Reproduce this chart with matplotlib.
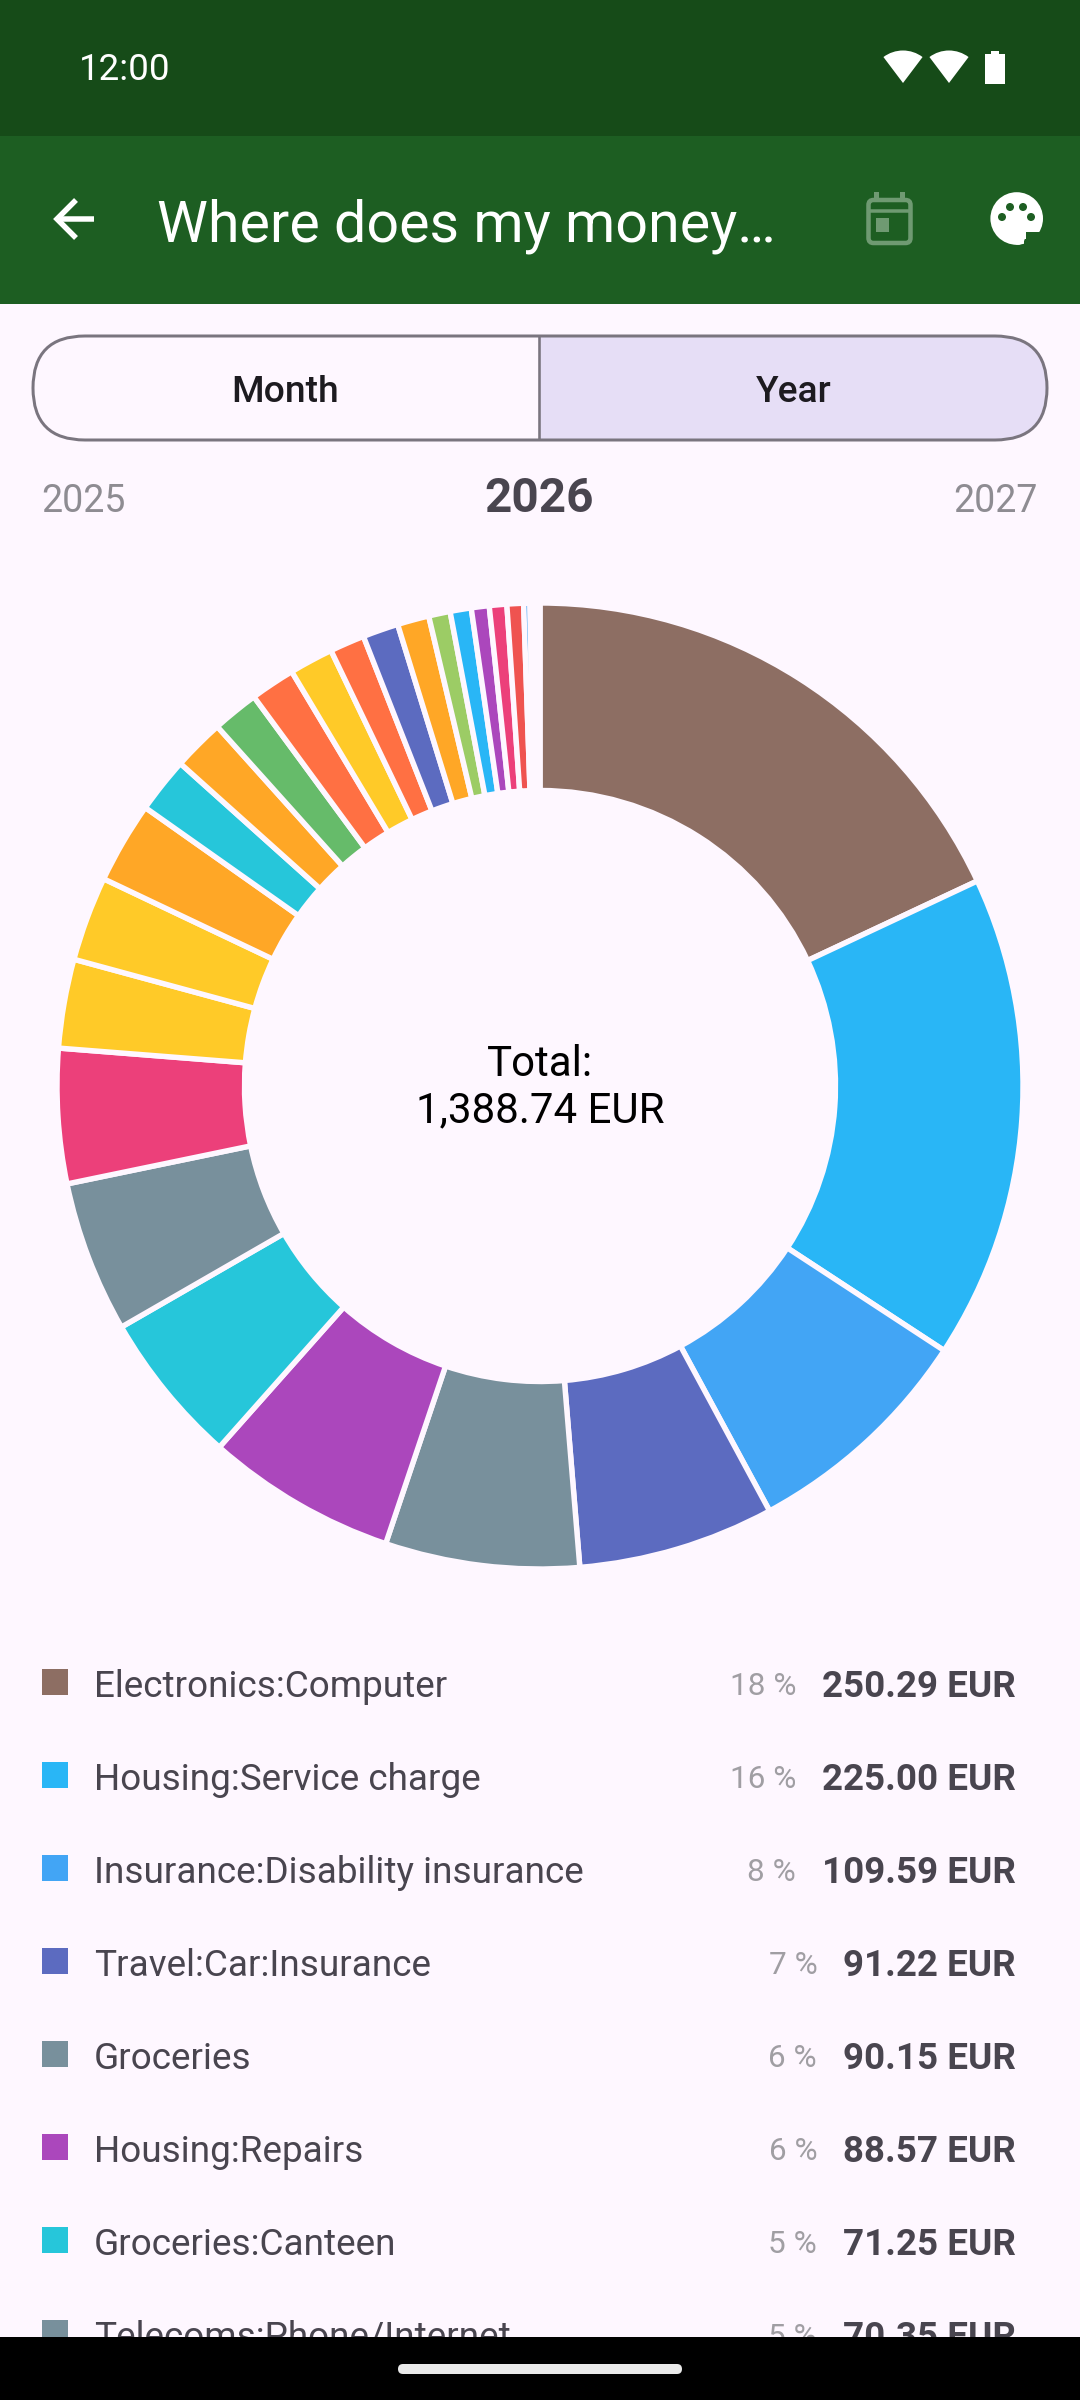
import matplotlib
matplotlib.use("Agg")
import matplotlib.pyplot as plt
from matplotlib.patches import Rectangle, FancyBboxPatch, Wedge, Circle

# ---------- data ----------
slice_values = [250.29, 225.00, 109.59, 91.22, 90.15, 88.57, 71.25, 70.35,
                62.5, 41.3, 39.3, 37.8, 25.8, 23.9, 21.6, 20.8, 20.4, 16.2,
                16.6, 14.7, 10.0, 9.8, 8.3, 8.1, 7.7, 2.9, 1.6, 1.5, 1.5]
slice_colors = ["#8D6E63", "#29B6F6", "#42A5F5", "#5C6BC0", "#78909C", "#AB47BC",
                "#26C6DA", "#78909C", "#EC407A", "#FFCA28", "#FFCA28", "#FFA726",
                "#26C6DA", "#FFA726", "#66BB6A", "#FF7043", "#FFCA28", "#FF7043",
                "#5C6BC0", "#FFA726", "#9CCC65", "#29B6F6", "#AB47BC", "#EC407A",
                "#EF5350", "#42A5F5", "#FFCA28", "#66BB6A", "#EC407A"]
legend_names = ["Electronics:Computer", "Housing:Service charge",
                "Insurance:Disability insurance", "Travel:Car:Insurance", "Groceries",
                "Housing:Repairs", "Groceries:Canteen", "Telecoms:Phone/Internet"]
legend_pcts = ["18 %", "16 %", "8 %", "7 %", "6 %", "6 %", "5 %", "5 %"]
legend_amounts = ["250.29 EUR", "225.00 EUR", "109.59 EUR", "91.22 EUR",
                  "90.15 EUR", "88.57 EUR", "71.25 EUR", "70.35 EUR"]
total_label = "Total:\n1,388.74 EUR"
year_labels = ["2025", "2026", "2027"]

# ---------- style ----------
BG = "#FEF7FF"
STATUS = "#164B18"
APPBAR = "#1D5E22"
INK = "#49454F"
FS = lambda px: px * 0.72
plt.rcParams["font.family"] = ["Roboto", "DejaVu Sans"]

fig = plt.figure(figsize=(10.8, 24), dpi=100, facecolor=BG)

# ---------- donut ----------
CX, CY, R, RIN, GAP = 540, 1086, 483, 295.5, 5.4
pax = fig.add_axes([(CX - R) / 1080, 1 - (CY + R) / 2400, 2 * R / 1080, 2 * R / 2400])
pax.pie(slice_values, colors=slice_colors, startangle=90, counterclock=False,
        radius=1, wedgeprops=dict(width=(R - RIN) / R, edgecolor=BG,
                                  linewidth=FS(GAP), antialiased=True))
pax.set_xlim(-1, 1)
pax.set_ylim(-1, 1)
pax.set_axis_off()

# ---------- screen overlay in pixel coordinates ----------
ax = fig.add_axes([0, 0, 1, 1], facecolor="none")
ax.set_xlim(0, 1080)
ax.set_ylim(2400, 0)
ax.set_axis_off()

ax.text(CX, 1088, total_label, ha="center", va="center", fontsize=FS(42),
        color="black", linespacing=1.17)

# top bars
ax.add_patch(Rectangle((0, 0), 1080, 136, fc=STATUS, ec="none"))
ax.add_patch(Rectangle((0, 136), 1080, 168, fc=APPBAR, ec="none"))
ax.text(79, 80, "12:00", color="white", fontsize=FS(36.75), va="baseline")
ax.text(157, 241.5, "Where does my money…", color="white", fontsize=FS(57.4), va="baseline")

# status icons
for wx in (903, 949):
    ax.add_patch(Wedge((wx, 83), 32.5, -127, -53, fc="white", ec="none"))
ax.add_patch(Rectangle((985, 54), 20, 30, fc="white", ec="none"))
ax.add_patch(Rectangle((991, 51), 8, 4, fc="white", ec="none"))

# back arrow
ax.plot([57, 94], [219, 219], color="white", lw=FS(5.5), solid_capstyle="butt")
ax.plot([76, 57, 76], [200, 219, 238], color="white", lw=FS(5.5),
        solid_capstyle="butt", solid_joinstyle="miter")

# calendar icon
CAL = "#6F9A72"
ax.add_patch(FancyBboxPatch((868.5, 200), 42, 43, boxstyle="round,pad=0,rounding_size=5",
                            fc="none", ec=CAL, lw=FS(4.5)))
ax.plot([868, 911], [211, 211], color=CAL, lw=FS(3.5), solid_capstyle="butt")
for px_ in (876.5, 902.5):
    ax.add_patch(Rectangle((px_ - 2.5, 192), 5, 7, fc=CAL, ec="none"))
ax.add_patch(Rectangle((876, 218), 13, 14, fc=CAL, ec="none"))

# palette icon
ax.add_patch(Circle((1016.7, 218.5), 26.3, fc="white", ec="none"))
ax.add_patch(Rectangle((1024, 232), 22, 16, fc=APPBAR, ec="none"))
ax.add_patch(Rectangle((1018, 232), 8, 7, fc="white", ec="none"))
ax.add_patch(Circle((1018, 238), 6.8, fc="white", ec="none"))
for dx, dy in ((1002, 217), (1010, 207), (1023, 207), (1031, 217)):
    ax.add_patch(Circle((dx, dy), 4, fc=APPBAR, ec="none"))

# segmented control
pill = FancyBboxPatch((33, 336), 1014, 104, boxstyle="round,pad=0,rounding_size=52",
                      fc="#E6DEF6", ec="none")
ax.add_patch(pill)
pill.set_clip_path(Rectangle((539, 330), 520, 120, transform=ax.transData))
ax.add_patch(FancyBboxPatch((33, 336), 1014, 104, boxstyle="round,pad=0,rounding_size=52",
                            fc="none", ec="#7A757F", lw=FS(3)))
ax.plot([539, 539], [336, 440], color="#7A757F", lw=FS(2.6), solid_capstyle="butt")
ax.text(285.5, 402, "Month", ha="center", va="baseline", color="#1D1B20",
        fontsize=FS(37.2), fontweight="medium")
ax.text(794, 402, "Year", ha="center", va="baseline", color="#1D1B20",
        fontsize=FS(37.2), fontweight="medium")

# years
ax.text(41, 512, year_labels[0], ha="left", va="baseline", color="#8E8C92", fontsize=FS(37.5))
ax.text(539.5, 511.5, year_labels[1], ha="center", va="baseline", color=INK,
        fontsize=FS(47.6), fontweight="bold")
ax.text(1038, 512, year_labels[2], ha="right", va="baseline", color="#8E8C92", fontsize=FS(37.5))

# legend rows
ROW0, PITCH = 1682, 93
renderer = fig.canvas.get_renderer()
for i, (name, pct, amt) in enumerate(zip(legend_names, legend_pcts, legend_amounts)):
    yc = ROW0 + i * PITCH
    ax.add_patch(Rectangle((42, yc - 13), 26, 26, fc=slice_colors[i], ec="none"))
    ax.text(94, yc + 15, name, ha="left", va="baseline", color=INK, fontsize=FS(36.9))
    t = ax.text(1016, yc + 15, amt, ha="right", va="baseline", color=INK,
                fontsize=FS(36.75), fontweight="bold")
    left = t.get_window_extent(renderer).x0
    ax.text(left - 26, yc + 13, pct, ha="right", va="baseline", color="#A09EA3", fontsize=FS(31.5))

# navigation bar
ax.add_patch(Rectangle((0, 2337), 1080, 63, fc="black", ec="none", zorder=10))
ax.add_patch(FancyBboxPatch((398, 2364), 284, 10, boxstyle="round,pad=0,rounding_size=5",
                            fc="#EAEAEA", ec="none", zorder=11))

fig.savefig("out.png", dpi=100, facecolor=BG)
